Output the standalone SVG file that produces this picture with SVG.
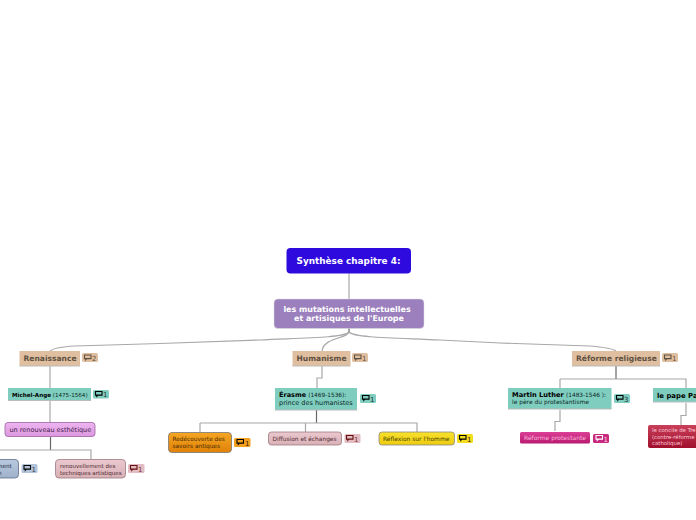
<svg xmlns="http://www.w3.org/2000/svg" width="696" height="520" viewBox="0 0 696 520">
<defs>
<linearGradient id="gOrange" x1="0" y1="0" x2="0" y2="1"><stop offset="0" stop-color="#f5a623"/><stop offset="1" stop-color="#e08209"/></linearGradient>
<linearGradient id="gPink" x1="0" y1="0" x2="0" y2="1"><stop offset="0" stop-color="#ebc9cf"/><stop offset="1" stop-color="#d8b0b6"/></linearGradient>
<linearGradient id="gYellow" x1="0" y1="0" x2="0" y2="1"><stop offset="0" stop-color="#f8e12c"/><stop offset="1" stop-color="#eccb10"/></linearGradient>
<linearGradient id="gMagenta" x1="0" y1="0" x2="0" y2="1"><stop offset="0" stop-color="#dc3f96"/><stop offset="1" stop-color="#b81a70"/></linearGradient>
<linearGradient id="gRed" x1="0" y1="0" x2="0" y2="1"><stop offset="0" stop-color="#c9405a"/><stop offset="1" stop-color="#a00f2c"/></linearGradient>
<linearGradient id="gLilac" x1="0" y1="0" x2="0" y2="1"><stop offset="0" stop-color="#eeb4f0"/><stop offset="1" stop-color="#dc98df"/></linearGradient>
<linearGradient id="gBlue" x1="0" y1="0" x2="0" y2="1"><stop offset="0" stop-color="#b9c9de"/><stop offset="1" stop-color="#9fb2cb"/></linearGradient>
<path id="ic" d="M0 0h6.500v3.600h-4.200l-1 1.200v-1.200h-1.300z" fill="none" stroke="currentColor" stroke-width="1.100"/>
</defs>
<style>
text{font-family:"DejaVu Sans","Liberation Sans",sans-serif}
.c{fill:none;stroke:#a8a8a8;stroke-width:1.200}
.d{fill:none;stroke:#666;stroke-width:1.200}
.t{fill:#e0bfa0}
.g{fill:#7fcdbf}
.b{font-size:7px}
.h{font-size:7.550px;font-weight:bold;fill:#5e5040}
</style>
<rect width="696" height="520" fill="#fff"/>
<g id="connectors">
<path class="c" d="M349 273.500V299"/>
<path class="d" d="M349 328V332"/>
<path class="c" d="M349 332C344 338 300 338 260 340L160 343.500L75 346Q55 347 50 351"/>
<path class="c" d="M349 332C347 339 324 337 322 351"/>
<path class="c" d="M349 332C354 338 400 338 440 340L500 343L590 346Q612 348 616 351"/>
<path class="c" d="M50 366V388"/>
<path class="c" d="M50 401V422"/>
<path class="d" d="M50.500 437V450"/>
<path class="c" d="M0 450H91V459"/>
<path class="c" d="M322 366V378H317V388"/>
<path class="d" d="M316.500 410V423"/>
<path class="c" d="M200 423H417V432M200 423V432M305.500 423V432"/>
<path class="d" d="M616 366V379"/>
<path class="c" d="M560 379H686V388M560 379V388"/>
<path class="c" d="M560 410V421.500H555V431"/>
<path class="c" d="M686 403V415.500H681V425"/>
</g>
<g id="root"><rect x="286.500" y="248" width="124.500" height="25.500" rx="4" fill="#2f0ade"/><text x="348.500" y="264" text-anchor="middle" fill="#fff" font-size="8.900" font-weight="bold">Synthèse chapitre 4:</text></g>
<g id="central"><rect x="274" y="299" width="150" height="29.500" rx="4" fill="#9b80bd" stroke="#ddd" stroke-width="0.500"/><text x="347" y="312" text-anchor="middle" fill="#fff" font-size="7.950" font-weight="bold">les mutations intellectuelles</text><text x="349" y="321" text-anchor="middle" fill="#fff" font-size="7.950" font-weight="bold">et artisiques de l'Europe</text></g>

<g id="renaissance"><rect class="t" x="19.500" y="351" width="60.500" height="15"/><path d="M19.500 366H80" stroke="#bbb"/><text x="23.500" y="361.300" class="h">Renaissance</text><rect x="82" y="353" width="16" height="9" rx="1.500" fill="#e0bfa0"/><use href="#ic" x="84.500" y="355" color="#5e5040"/><text x="92" y="360.500" class="b" fill="#5e5040">2</text></g>
<g id="humanisme"><rect class="t" x="292.500" y="351" width="58" height="15"/><path d="M292.500 366H350" stroke="#bbb"/><text x="296.500" y="361.300" class="h">Humanisme</text><rect x="352" y="353" width="16" height="9" rx="1.500" fill="#e0bfa0"/><use href="#ic" x="354.500" y="355" color="#5e5040"/><text x="362" y="360.500" class="b" fill="#5e5040">1</text></g>
<g id="reforme"><rect class="t" x="572" y="351" width="88" height="15"/><path d="M572 366H660" stroke="#bbb"/><text x="576" y="361.300" class="h">Réforme religieuse</text><rect x="662" y="353" width="16" height="9" rx="1.500" fill="#e0bfa0"/><use href="#ic" x="664.500" y="355" color="#5e5040"/><text x="672" y="360.500" class="b" fill="#5e5040">1</text></g>

<g id="michelange"><rect class="g" x="8" y="388" width="83" height="12.500"/><path d="M8 400.500H91" stroke="#bbb"/><text x="12" y="396.500" font-size="5.600" fill="#0a2a26"><tspan font-weight="bold" fill="#000">Michel-Ange</tspan> (1475-1564)</text><rect x="93" y="390" width="16" height="8.500" rx="1.500" fill="#7fcdbf"/><use href="#ic" x="95.500" y="391.500" color="#000"/><text x="103" y="397" class="b" fill="#233">1</text></g>
<g id="renouveau"><rect x="5" y="422.500" width="90" height="14" rx="3" fill="url(#gLilac)" stroke="#9a62a0" stroke-width="0.800"/><text x="9.500" y="432" font-size="6.500" fill="#43204a">un renouveau esthétique</text></g>
<g id="ment"><rect x="-30" y="459.500" width="48.500" height="18.500" rx="3.500" fill="url(#gBlue)" stroke="#5d6f88" stroke-width="0.800"/><text x="-3" y="468" font-size="5.600" fill="#1c2a3d">ment</text><text x="-2" y="475" font-size="5.600" fill="#1c2a3d">n</text><rect x="21.500" y="464" width="16" height="9" rx="1.500" fill="#b3c4da"/><use href="#ic" x="24" y="465.500" color="#000"/><text x="31.500" y="471.500" class="b" fill="#345">1</text></g>
<g id="techniques"><rect x="55.500" y="459.500" width="70" height="18.500" rx="3.500" fill="url(#gPink)" stroke="#9c7a80" stroke-width="0.800"/><text x="60" y="468" font-size="5.550" fill="#4e2a30">renouvellement des</text><text x="60" y="475" font-size="5.550" fill="#4e2a30">techniques artistiques</text><rect x="128" y="464" width="16.500" height="9" rx="1.500" fill="#e2bcc2"/><use href="#ic" x="130.500" y="465.500" color="#611"/><text x="138" y="471.500" class="b" fill="#733">1</text></g>

<g id="erasme"><rect class="g" x="275" y="388" width="82" height="22"/><path d="M275 410H357" stroke="#bbb"/><text x="279" y="397" font-size="6.500" fill="#0a2a26"><tspan font-weight="bold" fill="#000">Érasme</tspan> <tspan font-size="5.800">(1469-1536):</tspan></text><text x="279" y="405" font-size="6.500" fill="#0a2a26">prince des humanistes</text><rect x="360" y="394" width="16" height="9" rx="1.500" fill="#7fcdbf"/><use href="#ic" x="362.500" y="395.500" color="#000"/><text x="370" y="401.500" class="b" fill="#233">1</text></g>
<g id="redecouverte"><rect x="168.500" y="432.500" width="63" height="20" rx="3.500" fill="url(#gOrange)" stroke="#777" stroke-width="0.800"/><text x="172.500" y="441" font-size="5.800" fill="#4a2c00">Redécouverte des</text><text x="172.500" y="448" font-size="5.800" fill="#4a2c00">savoirs antiques</text><rect x="234" y="438" width="16.500" height="9" rx="1.500" fill="#f2a01e"/><use href="#ic" x="237" y="439.500" color="#000"/><text x="245" y="445.500" class="b" fill="#421">1</text></g>
<g id="diffusion"><rect x="268.500" y="432" width="73" height="13" rx="3" fill="url(#gPink)" stroke="#9c7a80" stroke-width="0.800"/><text x="272.500" y="441" font-size="5.900" fill="#4e2a30">Diffusion et échanges</text><rect x="344.500" y="434" width="16" height="9" rx="1.500" fill="#e2bcc2"/><use href="#ic" x="346.500" y="435.500" color="#611"/><text x="354" y="441.500" class="b" fill="#733">1</text></g>
<g id="reflexion"><rect x="379" y="432" width="75.500" height="13" rx="3" fill="url(#gYellow)" stroke="#888" stroke-width="0.800"/><text x="383" y="441" font-size="5.950" fill="#4a3f00">Réflexion sur l'homme</text><rect x="457" y="434" width="16" height="9" rx="1.500" fill="#f4dc1e"/><use href="#ic" x="459.500" y="435.500" color="#000"/><text x="467" y="441.500" class="b" fill="#321">1</text></g>

<g id="luther"><rect class="g" x="508" y="388" width="103.500" height="21"/><path d="M508 409H611.500" stroke="#bbb"/><text x="512" y="397" font-size="6.700" fill="#0a2a26"><tspan font-weight="bold" fill="#000">Martin Luther</tspan> <tspan font-size="5.800">(1483-1546 ):</tspan></text><text x="512" y="404" font-size="5.950" fill="#0a2a26">le père du protestantisme</text><rect x="614" y="394" width="16" height="9" rx="1.500" fill="#7fcdbf"/><use href="#ic" x="616.500" y="395.500" color="#000"/><text x="624" y="401.500" class="b" fill="#233">3</text></g>
<g id="protestante"><rect x="520" y="432" width="70" height="11.500" rx="1.500" fill="url(#gMagenta)"/><text x="524" y="440" font-size="6" fill="#fbd">Réforme protestante</text><rect x="593" y="434" width="16" height="9" rx="1.500" fill="#c8287f"/><use href="#ic" x="596" y="435.500" color="#fff"/><text x="603.500" y="441.500" class="b" fill="#fdd">1</text></g>
<g id="pape"><rect class="g" x="653" y="388" width="50" height="14"/><path d="M653 402H703" stroke="#bbb"/><text x="657" y="397.500" font-size="6.900" font-weight="bold" fill="#000">le pape Par</text></g>
<g id="concile"><rect x="648" y="425" width="60" height="23" rx="2" fill="url(#gRed)"/><text x="652" y="432" font-size="5.400" fill="#fcd">le concile de Tre</text><text x="652" y="438.500" font-size="5.400" fill="#fcd">(contre-réforme</text><text x="652" y="445" font-size="5.400" fill="#fcd">catholique)</text></g>
</svg>
